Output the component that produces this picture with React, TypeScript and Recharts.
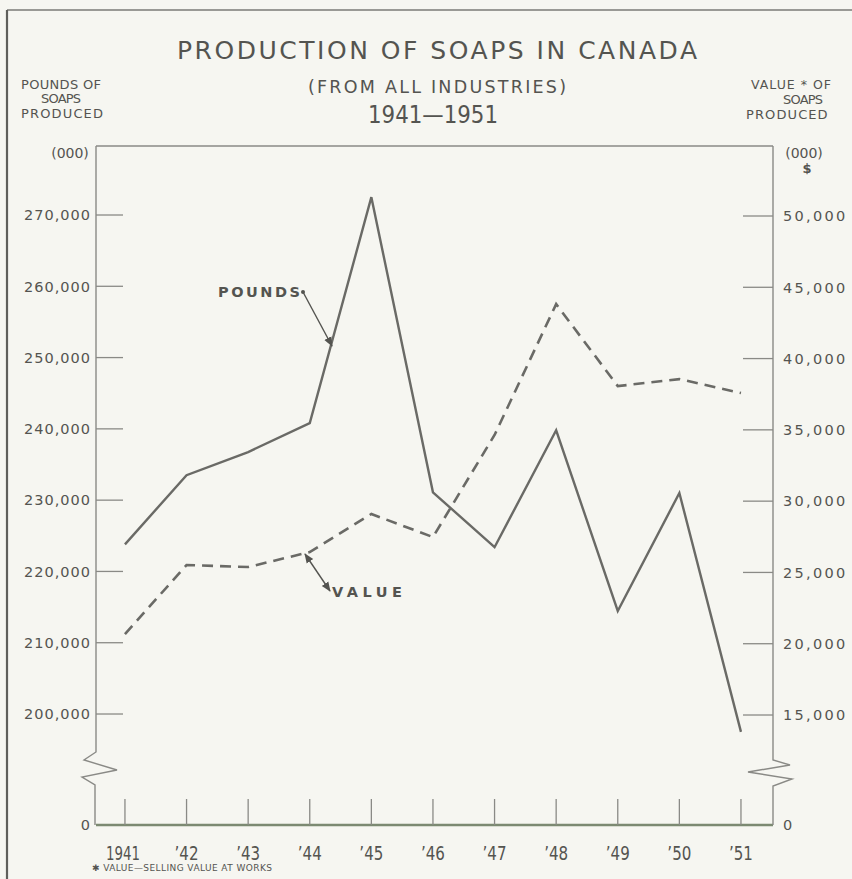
import React from 'react';
import { LineChart, Line, XAxis, YAxis } from 'recharts';

// ---- data (thousands of pounds / thousands of dollars) ----
const years = [1941, 1942, 1943, 1944, 1945, 1946, 1947, 1948, 1949, 1950, 1951];
const poundsProduced = [223800, 233500, 236750, 240800, 272500, 231100, 223400, 239800, 214450, 231000, 197500];
const valueProduced = [20680, 25520, 25380, 26430, 29100, 27480, 34640, 43820, 38070, 38560, 37580];
const poundsTicks = [200000, 210000, 220000, 230000, 240000, 250000, 260000, 270000];
const valueTicks = [15000, 20000, 25000, 30000, 35000, 40000, 45000, 50000];
const yearLabels = ['1941', '\u201942', '\u201943', '\u201944', '\u201945', '\u201946', '\u201947', '\u201948', '\u201949', '\u201950', '\u201951'];

const data = years.map((year, i) => ({ year, pounds: poundsProduced[i], value: valueProduced[i] }));

// ---- layout ----
const W = 852;
const H = 879;
const PLOT_L = 96;
const PLOT_R = 773;
const PLOT_T = 146;
const PLOT_B = 825;
const X_AXIS_H = 40;
const POUNDS_DOMAIN: [number, number] = [184430, 279680];
const VALUE_DOMAIN: [number, number] = [7285, 54910];
const YEAR_DOMAIN: [number, number] = [1940.53, 1951.52];

const BG = '#f6f6f1';
const INK = '#545450';
const LINE = '#6a6a66';
const TICK = '#8a8a86';
const FONT = '"DejaVu Sans", Verdana, sans-serif';

const fmt = (v: number) => v.toLocaleString('en-US');

const LeftTick = (props: any) => {
  const { x, y, payload } = props;
  const isZero = payload.value === POUNDS_DOMAIN[0];
  return (
    <g>
      {!isZero && <line x1={PLOT_L} x2={PLOT_L + 27} y1={y} y2={y} stroke={TICK} strokeWidth={1.3} />}
      <text x={x} y={y} dy="0.36em" textAnchor="end" fontSize={14.5} letterSpacing={1} fill={INK} fontFamily={FONT}>
        {isZero ? '0' : fmt(payload.value)}
      </text>
    </g>
  );
};

const RightTick = (props: any) => {
  const { x, y, payload } = props;
  const isZero = payload.value === VALUE_DOMAIN[0];
  return (
    <g>
      {!isZero && <line x1={PLOT_R} x2={PLOT_R - 30} y1={y} y2={y} stroke={TICK} strokeWidth={1.3} />}
      <text x={x} y={y} dy="0.36em" textAnchor="start" fontSize={14.5} letterSpacing={2.3} fill={INK} fontFamily={FONT}>
        {isZero ? '0' : fmt(payload.value)}
      </text>
    </g>
  );
};

const BottomTick = (props: any) => {
  const { x, payload, index } = props;
  const label = yearLabels[index] ?? String(payload.value);
  const isFull = label.length === 4;
  return (
    <g>
      <line x1={x} x2={x} y1={PLOT_B} y2={PLOT_B - 26} stroke={TICK} strokeWidth={1.3} />
      <text
        x={isFull ? x - 2 : x}
        y={PLOT_B + 35}
        textAnchor="middle"
        fontSize={19}
        fill={INK}
        fontFamily={FONT}
        textLength={isFull ? 34 : 24}
        lengthAdjust="spacingAndGlyphs"
      >
        {label}
      </text>
    </g>
  );
};

const Overlay = () => (
  <svg
    width={W}
    height={H}
    style={{ position: 'absolute', left: 0, top: 0, pointerEvents: 'none' }}
    fontFamily={FONT}
  >
    <defs>
      <marker id="arr" viewBox="0 0 10 10" refX="9" refY="5" markerWidth="7" markerHeight="7" orient="auto-start-reverse">
        <path d="M0,1 L10,5 L0,9 z" fill={INK} />
      </marker>
    </defs>
    {/* outer border of the sheet */}
    <line x1={7} y1={10} x2={W} y2={10} stroke="#7a7a76" strokeWidth={1.6} />
    <line x1={7} y1={10} x2={7} y2={H} stroke="#5f5f5b" strokeWidth={2.2} />

    {/* plot frame with axis breaks */}
    <line x1={PLOT_L} y1={PLOT_T} x2={PLOT_R} y2={PLOT_T} stroke={TICK} strokeWidth={1.3} />
    <polyline
      points={`${PLOT_L},${PLOT_T} ${PLOT_L},752 ${PLOT_L - 12},760 ${PLOT_L + 21},770 ${PLOT_L - 14},777 ${PLOT_L - 1},785 ${PLOT_L - 1},${PLOT_B}`}
      fill="none"
      stroke={TICK}
      strokeWidth={1.4}
    />
    <polyline
      points={`${PLOT_R},${PLOT_T} ${PLOT_R},760 ${PLOT_R + 17},765 ${PLOT_R - 25},772 ${PLOT_R + 19},779 ${PLOT_R},786 ${PLOT_R},${PLOT_B}`}
      fill="none"
      stroke={TICK}
      strokeWidth={1.4}
    />

    {/* titles */}
    <text x={437} y={59} textAnchor="middle" fontSize={25} fill={INK} textLength={520} lengthAdjust="spacing">
      PRODUCTION OF SOAPS IN CANADA
    </text>
    <text x={437} y={93} textAnchor="middle" fontSize={17.5} fill={INK} textLength={258} lengthAdjust="spacing">
      (FROM ALL INDUSTRIES)
    </text>
    <text x={433} y={123} textAnchor="middle" fontSize={24} fill={INK} textLength={130} lengthAdjust="spacingAndGlyphs">
      1941—1951
    </text>

    {/* left axis title */}
    <text x={21} y={89} fontSize={13} fill={INK} textLength={80} lengthAdjust="spacing">POUNDS OF</text>
    <text x={61} y={103} textAnchor="middle" fontSize={13} fill={INK} textLength={40} lengthAdjust="spacing">SOAPS</text>
    <text x={21} y={118} fontSize={13} fill={INK} textLength={82} lengthAdjust="spacing">PRODUCED</text>
    <text x={70} y={158} textAnchor="middle" fontSize={14} fill={INK}>(000)</text>

    {/* right axis title */}
    <text x={751} y={89} fontSize={12.5} fill={INK} letterSpacing={1}>VALUE * OF</text>
    <text x={803} y={104} textAnchor="middle" fontSize={13} fill={INK} textLength={40} lengthAdjust="spacing">SOAPS</text>
    <text x={746} y={119} fontSize={13} fill={INK} letterSpacing={1.1}>PRODUCED</text>
    <text x={804} y={158} textAnchor="middle" fontSize={14} fill={INK}>(000)</text>
    <text x={807} y={173} textAnchor="middle" fontSize={13} fontWeight="bold" fill={INK}>$</text>

    {/* series labels */}
    <text x={218} y={297} fontSize={14.5} fontWeight="bold" fill={INK} textLength={82} lengthAdjust="spacing">POUNDS</text>
    <circle cx={303} cy={292} r={2} fill={INK} />
    <line x1={303} y1={292} x2={332} y2={346} stroke={INK} strokeWidth={1.4} markerEnd="url(#arr)" />

    <text x={332} y={597} fontSize={14.5} fontWeight="bold" fill={INK} textLength={70} lengthAdjust="spacing">VALUE</text>
    <line x1={305} y1={554} x2={330} y2={591} stroke={INK} strokeWidth={1.4} markerStart="url(#arr)" markerEnd="url(#arr)" />

    {/* footnote */}
    <text x={92} y={871} fontSize={9} fill={INK} textLength={180} lengthAdjust="spacing">✱ VALUE—SELLING VALUE AT WORKS</text>
  </svg>
);

export default function App() {
  return (
    <div style={{ position: 'absolute', left: 0, top: 0, width: W, height: H, background: BG, overflow: 'hidden' }}>
      <LineChart
        width={W}
        height={H}
        data={data}
        margin={{ top: PLOT_T, right: 0, bottom: H - PLOT_B - X_AXIS_H, left: 0 }}
      >
        <XAxis
          dataKey="year"
          type="number"
          domain={YEAR_DOMAIN}
          ticks={years}
          interval={0}
          allowDataOverflow
          height={X_AXIS_H}
          tickSize={0}
          tickMargin={0}
          tickLine={false}
          axisLine={{ stroke: '#7c8a72', strokeWidth: 2.6 }}
          tick={(p: any) => <BottomTick {...p} />}
        />
        <YAxis
          yAxisId="left"
          orientation="left"
          width={PLOT_L}
          domain={POUNDS_DOMAIN}
          ticks={[POUNDS_DOMAIN[0], ...poundsTicks]}
          interval={0}
          allowDataOverflow
          axisLine={false}
          tickLine={false}
          tickSize={0}
          tickMargin={5}
          tick={(p: any) => <LeftTick {...p} />}
        />
        <YAxis
          yAxisId="right"
          orientation="right"
          width={W - PLOT_R}
          domain={VALUE_DOMAIN}
          ticks={[VALUE_DOMAIN[0], ...valueTicks]}
          interval={0}
          allowDataOverflow
          axisLine={false}
          tickLine={false}
          tickSize={0}
          tickMargin={10}
          tick={(p: any) => <RightTick {...p} />}
        />
        <Line
          yAxisId="left"
          dataKey="pounds"
          type="linear"
          stroke={LINE}
          strokeWidth={2.4}
          dot={false}
          activeDot={false}
          isAnimationActive={false}
        />
        <Line
          yAxisId="right"
          dataKey="value"
          type="linear"
          stroke={LINE}
          strokeWidth={2.6}
          strokeDasharray="11 7"
          dot={false}
          activeDot={false}
          isAnimationActive={false}
        />
      </LineChart>
      <Overlay />
    </div>
  );
}
